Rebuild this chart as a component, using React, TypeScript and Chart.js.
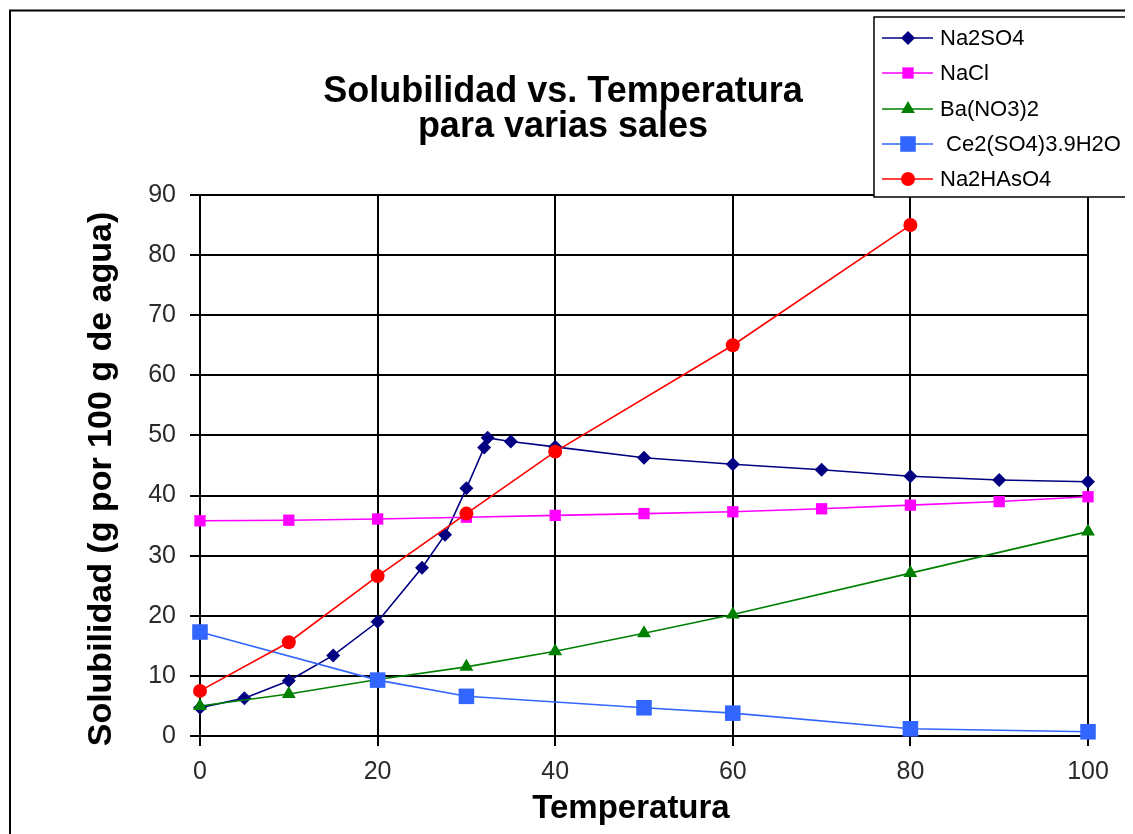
import React, { useEffect, useRef } from 'react';
import { Chart, registerables } from 'chart.js';

Chart.register(...registerables);

// ---- Data ----
const TITLE_LINES = ['Solubilidad vs. Temperatura', 'para varias sales'];
const X_TITLE = 'Temperatura';
const Y_TITLE = 'Solubilidad (g por 100 g de agua)';
const X_TICKS = [0, 20, 40, 60, 80, 100];
const Y_TICKS = [0, 10, 20, 30, 40, 50, 60, 70, 80, 90];

const SERIES_NAMES = ['Na2SO4', 'NaCl', 'Ba(NO3)2', ' Ce2(SO4)3.9H2O', 'Na2HAsO4'];

const na2so4T = [0, 5, 10, 15, 20, 25, 27.6, 30, 32, 32.4, 35, 40, 50, 60, 70, 80, 90, 100];
const na2so4S = [4.7, 6.3, 9.2, 13.4, 19.0, 28.0, 33.5, 41.2, 48.0, 49.6, 49.0, 48.1, 46.3, 45.2, 44.3, 43.2, 42.6, 42.3];

const naclT = [0, 10, 20, 30, 40, 50, 60, 70, 80, 90, 100];
const naclS = [35.8, 35.9, 36.1, 36.4, 36.7, 37.0, 37.3, 37.8, 38.4, 39.0, 39.8];

const bano3T = [0, 10, 20, 30, 40, 50, 60, 80, 100];
const bano3S = [5.0, 7.0, 9.4, 11.5, 14.1, 17.1, 20.2, 27.1, 34.0];

const ceT = [0, 20, 30, 50, 60, 80, 100];
const ceS = [17.3, 9.3, 6.6, 4.7, 3.8, 1.2, 0.7];

const arsT = [0, 10, 20, 30, 40, 60, 80];
const arsS = [7.5, 15.6, 26.6, 37.0, 47.3, 65.0, 85.0];

const COLORS = ['#000080', '#FF00FF', '#008000', '#3366FF', '#FF0000'];
const POINT_STYLES = ['rectRot', 'rect', 'triangle', 'rect', 'circle'];
const POINT_RADII = [7, 8, 8, 11, 7];

const FONT = '"Liberation Sans", Arial, Helvetica, sans-serif';

function pts(xs: number[], ys: number[]) {
  return xs.map((x, i) => ({ x, y: ys[i] }));
}

function drawMarker(ctx: CanvasRenderingContext2D, style: string, r: number, x: number, y: number, color: string) {
  ctx.fillStyle = color;
  ctx.beginPath();
  if (style === 'rectRot') {
    ctx.moveTo(x - r, y);
    ctx.lineTo(x, y - r);
    ctx.lineTo(x + r, y);
    ctx.lineTo(x, y + r);
    ctx.closePath();
  } else if (style === 'rect') {
    const s = r * Math.SQRT1_2;
    ctx.rect(x - s, y - s, 2 * s, 2 * s);
  } else if (style === 'triangle') {
    ctx.moveTo(x, y - r);
    ctx.lineTo(x + r * 0.866, y + r * 0.5);
    ctx.lineTo(x - r * 0.866, y + r * 0.5);
    ctx.closePath();
  } else {
    ctx.arc(x, y, r, 0, Math.PI * 2);
  }
  ctx.fill();
}

const decorPlugin = {
  id: 'decor',
  beforeDraw(chart: any) {
    const ctx = chart.ctx as CanvasRenderingContext2D;
    ctx.save();
    ctx.fillStyle = '#fff';
    ctx.fillRect(0, 0, chart.width, chart.height);
    ctx.restore();
  },
  afterDraw(chart: any) {
    const ctx = chart.ctx as CanvasRenderingContext2D;
    const W = chart.width;
    const H = chart.height;
    ctx.save();
    // outer frame (left and top)
    ctx.strokeStyle = '#000';
    ctx.lineWidth = 2;
    ctx.beginPath();
    ctx.moveTo(2, H + 2);
    ctx.lineTo(2, 2.5);
    ctx.lineTo(W + 2, 2.5);
    ctx.stroke();

    // title
    ctx.fillStyle = '#000';
    ctx.textAlign = 'center';
    ctx.textBaseline = 'middle';
    ctx.font = `bold 36px ${FONT}`;
    ctx.fillText(TITLE_LINES[0], 555, 84);
    ctx.fillText(TITLE_LINES[1], 555, 119);

    // axis titles
    ctx.font = `bold 33px ${FONT}`;
    ctx.fillText(X_TITLE, 623, 801);
    ctx.save();
    ctx.translate(94, 471);
    ctx.rotate(-Math.PI / 2);
    ctx.font = `bold 34px ${FONT}`;
    ctx.fillText(Y_TITLE, 0, 0);
    ctx.restore();

    // legend
    const lx = 866;
    const ly = 9;
    const lb = 189;
    ctx.fillStyle = '#fff';
    ctx.fillRect(lx, ly, W - lx + 5, lb - ly);
    ctx.strokeStyle = '#000';
    ctx.lineWidth = 1.5;
    ctx.beginPath();
    ctx.moveTo(W + 5, ly);
    ctx.lineTo(lx, ly);
    ctx.lineTo(lx, lb);
    ctx.lineTo(W + 5, lb);
    ctx.stroke();
    const itemY = [30, 65, 101, 136, 171];
    ctx.font = `22px ${FONT}`;
    ctx.textAlign = 'left';
    ctx.textBaseline = 'middle';
    for (let i = 0; i < SERIES_NAMES.length; i++) {
      const y = itemY[i];
      ctx.strokeStyle = COLORS[i];
      ctx.lineWidth = 1.5;
      ctx.beginPath();
      ctx.moveTo(874, y);
      ctx.lineTo(925, y);
      ctx.stroke();
      drawMarker(ctx, POINT_STYLES[i], POINT_RADII[i], 900, y, COLORS[i]);
      ctx.fillStyle = '#000';
      ctx.fillText(SERIES_NAMES[i], 932, y + 1);
    }
    ctx.restore();
  },
};

export default function App() {
  const ref = useRef<HTMLCanvasElement | null>(null);

  useEffect(() => {
    document.documentElement.style.overflow = 'hidden';
    document.body.style.overflow = 'hidden';
    const canvas = ref.current;
    if (!canvas) return;
    const seriesData = [
      pts(na2so4T, na2so4S),
      pts(naclT, naclS),
      pts(bano3T, bano3S),
      pts(ceT, ceS),
      pts(arsT, arsS),
    ];
    const chart = new Chart(canvas, {
      type: 'scatter',
      data: {
        datasets: seriesData.map((d, i) => ({
          label: SERIES_NAMES[i],
          data: d,
          showLine: true,
          clip: false as any,
          borderColor: COLORS[i],
          backgroundColor: COLORS[i],
          borderWidth: 1.6,
          pointStyle: POINT_STYLES[i] as any,
          pointRadius: POINT_RADII[i],
          pointBorderWidth: 0,
          pointBackgroundColor: COLORS[i],
          order: 5 - i,
          tension: 0,
        })),
      },
      options: {
        animation: false,
        responsive: true,
        maintainAspectRatio: false,
        layout: { padding: { left: 122, right: 45, top: 187, bottom: 48 } },
        plugins: {
          legend: { display: false },
          title: { display: false },
          tooltip: { enabled: false },
        },
        scales: {
          x: {
            type: 'linear',
            min: 0,
            max: 100,
            afterFit: (s: any) => { s.height = 50; },
            afterBuildTicks: (s: any) => { s.ticks = X_TICKS.map((v) => ({ value: v })); },
            ticks: {
              color: '#2a2a2a',
              font: { family: FONT, size: 25 },
              padding: 11,
              maxRotation: 0,
            },
            grid: { color: '#000', lineWidth: 2, tickLength: 10, drawTicks: true },
            border: { color: '#000', width: 2 },
          },
          y: {
            type: 'linear',
            min: 0,
            max: 90,
            afterFit: (s: any) => { s.width = 70; },
            afterBuildTicks: (s: any) => { s.ticks = Y_TICKS.map((v) => ({ value: v })); },
            ticks: {
              color: '#2a2a2a',
              font: { family: FONT, size: 25 },
              padding: 14,
            },
            grid: { color: '#000', lineWidth: 2, tickLength: 10, drawTicks: true },
            border: { color: '#000', width: 2 },
          },
        },
      },
      plugins: [decorPlugin],
    });
    return () => chart.destroy();
  }, []);

  return (
    <div style={{ width: 1125, height: 826, position: 'relative' }}>
      <canvas ref={ref} />
    </div>
  );
}
